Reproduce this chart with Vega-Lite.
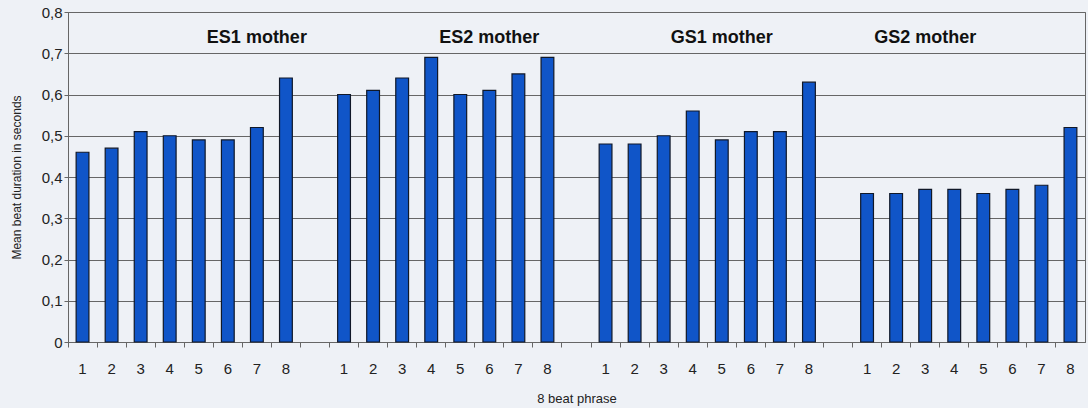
{
  "$schema": "https://vega.github.io/schema/vega-lite/v6.json",
  "autosize": {"type": "none"},
  "padding": {"left": 68, "top": 12, "right": 3, "bottom": 66},
  "width": 1017,
  "height": 330,
  "background": "#eef1f6",
  "config": {
    "font": "Liberation Sans",
    "view": {"stroke": "#666666", "strokeWidth": 1, "fill": "#eef1f6"}
  },
  "datasets": {
    "beats": [
      {"group": "ES1 mother", "slot": "ES1-1", "beat": "1", "duration": 0.46},
      {"group": "ES1 mother", "slot": "ES1-2", "beat": "2", "duration": 0.47},
      {"group": "ES1 mother", "slot": "ES1-3", "beat": "3", "duration": 0.51},
      {"group": "ES1 mother", "slot": "ES1-4", "beat": "4", "duration": 0.50},
      {"group": "ES1 mother", "slot": "ES1-5", "beat": "5", "duration": 0.49},
      {"group": "ES1 mother", "slot": "ES1-6", "beat": "6", "duration": 0.49},
      {"group": "ES1 mother", "slot": "ES1-7", "beat": "7", "duration": 0.52},
      {"group": "ES1 mother", "slot": "ES1-8", "beat": "8", "duration": 0.64},
      {"group": "ES2 mother", "slot": "ES2-1", "beat": "1", "duration": 0.60},
      {"group": "ES2 mother", "slot": "ES2-2", "beat": "2", "duration": 0.61},
      {"group": "ES2 mother", "slot": "ES2-3", "beat": "3", "duration": 0.64},
      {"group": "ES2 mother", "slot": "ES2-4", "beat": "4", "duration": 0.69},
      {"group": "ES2 mother", "slot": "ES2-5", "beat": "5", "duration": 0.60},
      {"group": "ES2 mother", "slot": "ES2-6", "beat": "6", "duration": 0.61},
      {"group": "ES2 mother", "slot": "ES2-7", "beat": "7", "duration": 0.65},
      {"group": "ES2 mother", "slot": "ES2-8", "beat": "8", "duration": 0.69},
      {"group": "GS1 mother", "slot": "GS1-1", "beat": "1", "duration": 0.48},
      {"group": "GS1 mother", "slot": "GS1-2", "beat": "2", "duration": 0.48},
      {"group": "GS1 mother", "slot": "GS1-3", "beat": "3", "duration": 0.50},
      {"group": "GS1 mother", "slot": "GS1-4", "beat": "4", "duration": 0.56},
      {"group": "GS1 mother", "slot": "GS1-5", "beat": "5", "duration": 0.49},
      {"group": "GS1 mother", "slot": "GS1-6", "beat": "6", "duration": 0.51},
      {"group": "GS1 mother", "slot": "GS1-7", "beat": "7", "duration": 0.51},
      {"group": "GS1 mother", "slot": "GS1-8", "beat": "8", "duration": 0.63},
      {"group": "GS2 mother", "slot": "GS2-1", "beat": "1", "duration": 0.36},
      {"group": "GS2 mother", "slot": "GS2-2", "beat": "2", "duration": 0.36},
      {"group": "GS2 mother", "slot": "GS2-3", "beat": "3", "duration": 0.37},
      {"group": "GS2 mother", "slot": "GS2-4", "beat": "4", "duration": 0.37},
      {"group": "GS2 mother", "slot": "GS2-5", "beat": "5", "duration": 0.36},
      {"group": "GS2 mother", "slot": "GS2-6", "beat": "6", "duration": 0.37},
      {"group": "GS2 mother", "slot": "GS2-7", "beat": "7", "duration": 0.38},
      {"group": "GS2 mother", "slot": "GS2-8", "beat": "8", "duration": 0.52}
    ],
    "titles": [
      {"group": "ES1 mother", "slot": "ES1-7", "level": 0.737},
      {"group": "ES2 mother", "slot": "ES2-6", "level": 0.737},
      {"group": "GS1 mother", "slot": "GS1-5", "level": 0.737},
      {"group": "GS2 mother", "slot": "GS2-3", "level": 0.737}
    ]
  },
  "layer": [
    {
      "data": {"name": "beats"},
      "mark": {"type": "bar", "color": "#1055c8", "stroke": "#101828", "strokeWidth": 1.2, "width": {"band": 0.44}},
      "encoding": {
        "x": {
          "field": "slot",
          "type": "nominal",
          "sort": null,
          "scale": {
            "domain": ["ES1-1","ES1-2","ES1-3","ES1-4","ES1-5","ES1-6","ES1-7","ES1-8","gap1",
                       "ES2-1","ES2-2","ES2-3","ES2-4","ES2-5","ES2-6","ES2-7","ES2-8","gap2",
                       "GS1-1","GS1-2","GS1-3","GS1-4","GS1-5","GS1-6","GS1-7","GS1-8","gap3",
                       "GS2-1","GS2-2","GS2-3","GS2-4","GS2-5","GS2-6","GS2-7","GS2-8"],
            "paddingInner": 0,
            "paddingOuter": 0
          },
          "axis": {
            "title": "8 beat phrase",
            "titleFontSize": 13,
            "titleFontWeight": "normal",
            "titleColor": "#222222",
            "titlePadding": 16,
            "labelAngle": 0,
            "labelFontSize": 15,
            "labelColor": "#222222",
            "labelExpr": "indexof(datum.value, 'gap') == 0 ? '' : split(datum.value, '-')[1]",
            "bandPosition": 0,
            "labelPadding": 14,
            "tickSize": 5,
            "tickColor": "#666666",
            "domainColor": "#666666",
            "grid": false
          }
        },
        "y": {
          "field": "duration",
          "type": "quantitative",
          "scale": {"domain": [0, 0.8], "nice": false},
          "axis": {
            "title": "Mean beat duration in seconds",
            "titleFontSize": 12,
            "titleFontWeight": "normal",
            "titleColor": "#222222",
            "titlePadding": 18,
            "values": [0, 0.1, 0.2, 0.3, 0.4, 0.5, 0.6, 0.7, 0.8],
            "labelExpr": "datum.value == 0 ? '0' : replace(format(datum.value, '.1f'), '.', ',')",
            "labelFontSize": 15,
            "labelColor": "#222222",
            "labelPadding": 2,
            "tickSize": 4,
            "tickColor": "#666666",
            "domainColor": "#666666",
            "grid": true,
            "gridColor": "#666666",
            "gridWidth": 1
          }
        }
      }
    },
    {
      "data": {"name": "titles"},
      "mark": {"type": "text", "fontSize": 18, "fontWeight": "bold", "color": "#111111", "align": "center", "baseline": "middle"},
      "encoding": {
        "x": {"field": "slot", "type": "nominal", "sort": null},
        "y": {"field": "level", "type": "quantitative"},
        "text": {"field": "group"}
      }
    }
  ]
}
